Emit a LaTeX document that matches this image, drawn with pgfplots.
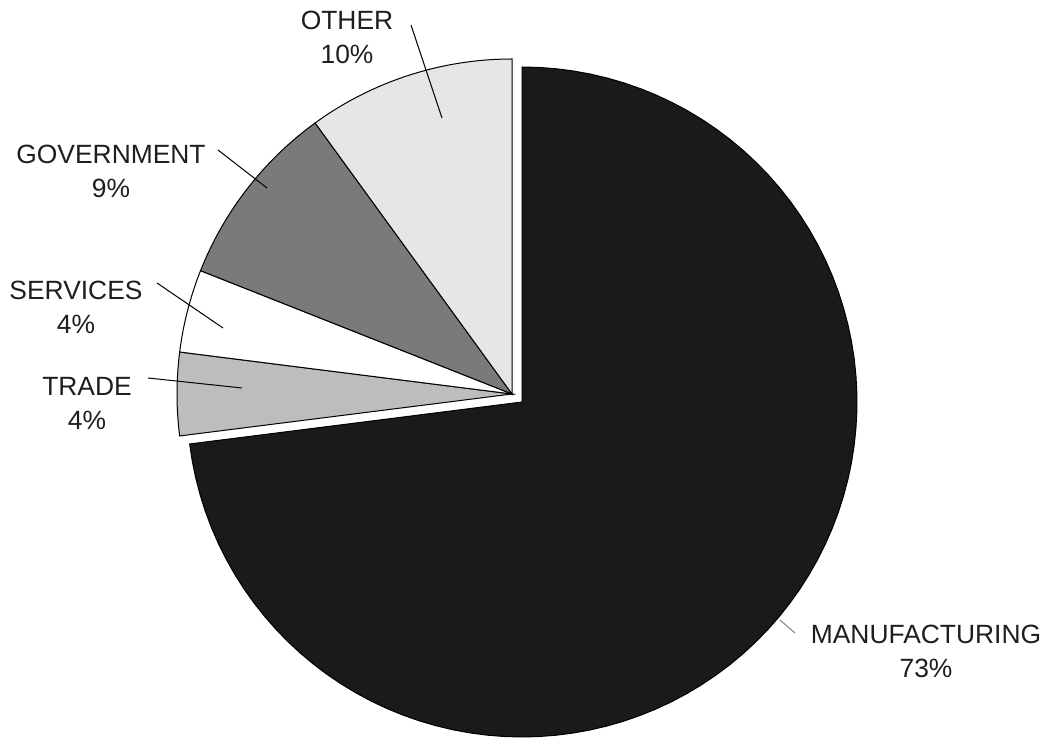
\documentclass[border=0pt]{standalone}
\usepackage{pgfplots}
\pgfplotsset{compat=1.18}
\usepackage{fontspec}
\setmainfont{Liberation Sans}
\definecolor{manuf}{HTML}{1C1A18}
\definecolor{other}{HTML}{E6E6E6}
\definecolor{govt}{HTML}{7A7A7A}
\definecolor{trade}{HTML}{BDBDBD}
\definecolor{serv}{HTML}{FFFFFF}
\definecolor{txt}{HTML}{1E1E1E}
% #1 cx, #2 cy, #3 cumulative start (%), #4 value (%), #5 fill colour
\newcommand\pieslice[5]{%
  \addplot[fill=#5, draw=black, line width=0.5pt, domain=90-3.6*(#3+#4):90-3.6*(#3),
    samples=90, variable=\t]
    ({#1+335*cos(\t)}, {#2+335*sin(\t)}) -- (axis cs:#1,#2) -- cycle;}
\begin{document}
\begin{tikzpicture}
\useasboundingbox (0,0) rectangle (525pt,369pt);
\begin{axis}[x=0.5pt, y=0.5pt, xmin=0, xmax=1050, ymin=0, ymax=738,
  hide axis, scale only axis, clip=false, anchor=south west, at={(0,0)}]
% values: MANUFACTURING 73, TRADE 4, SERVICES 4, GOVERNMENT 9, OTHER 10
\pieslice{522}{336}{0}{73}{manuf}
\pieslice{512}{344}{73}{4}{trade}
\pieslice{512}{344}{77}{4}{serv}
\pieslice{512}{344}{81}{9}{govt}
\pieslice{512}{344}{90}{10}{other}
% leader lines
\draw[line width=0.5pt, black] (axis cs:411,713) -- (axis cs:442,620);
\draw[line width=0.5pt, black] (axis cs:218,588) -- (axis cs:267,550);
\draw[line width=0.5pt, black] (axis cs:157,455) -- (axis cs:223,410);
\draw[line width=0.5pt, black] (axis cs:148,360) -- (axis cs:242,350);
\draw[line width=0.5pt, gray] (axis cs:780,118) -- (axis cs:795,105);
% labels
\tikzset{lab/.style={align=center, text=txt, font=\fontsize{13.2}{17}\selectfont, inner sep=0pt}}
\node[lab] at (axis cs:347,701) {OTHER\\10\%};
\node[lab] at (axis cs:111,567) {GOVERNMENT\\9\%};
\node[lab] at (axis cs:76,431) {SERVICES\\4\%};
\node[lab] at (axis cs:87,334) {TRADE\\4\%};
\node[lab] at (axis cs:926,87) {MANUFACTURING\\73\%};
\end{axis}
\end{tikzpicture}
\end{document}
